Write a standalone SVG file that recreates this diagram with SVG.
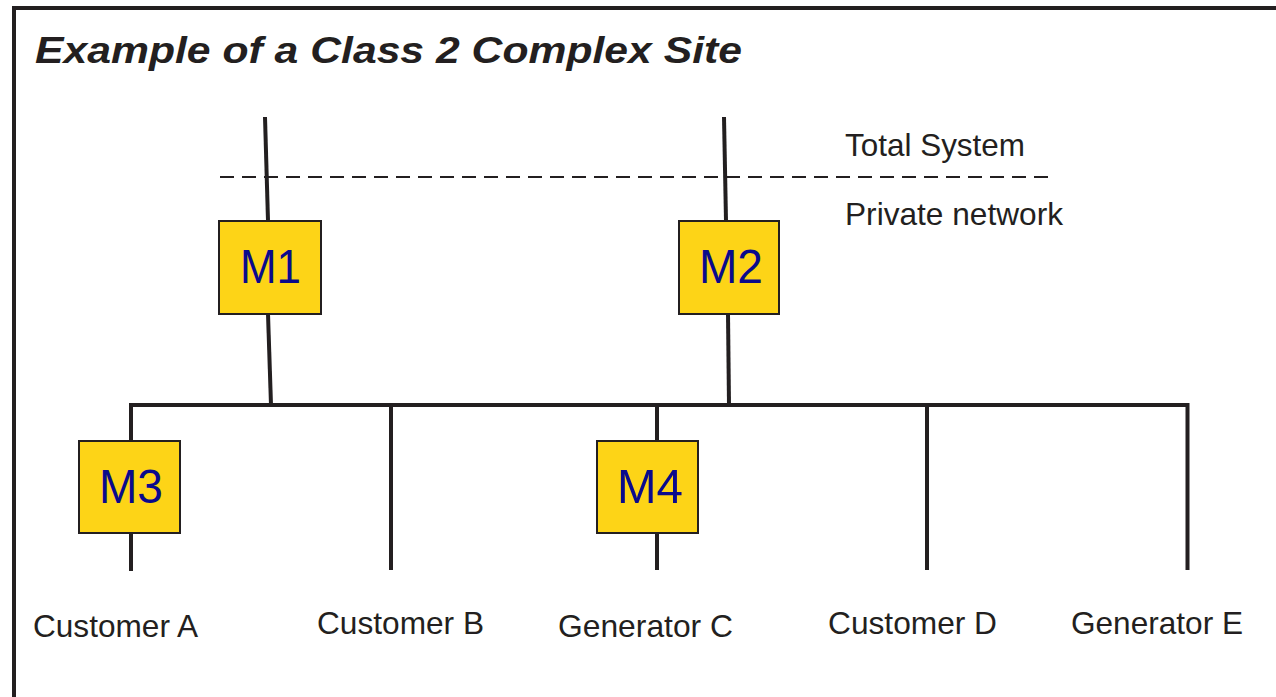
<svg xmlns="http://www.w3.org/2000/svg" width="1276" height="697" viewBox="0 0 1276 697">
<style>
.ln{stroke:#231f20;stroke-width:4;fill:none;stroke-linecap:butt}
.dash{stroke:#231f20;stroke-width:2;stroke-dasharray:14 8;fill:none}
.box{fill:#fdd417;stroke:#231f20;stroke-width:2}
.m{font-family:"Liberation Sans",Arial,sans-serif;font-size:49px;fill:#0a0a8c}
.lbl{font-family:"Liberation Sans",Arial,sans-serif;font-size:32px;fill:#231f20}
.title{font-family:"Liberation Sans",Arial,sans-serif;font-size:37px;font-weight:bold;font-style:italic;fill:#231f20}
</style>
<rect x="0" y="0" width="1276" height="697" fill="#ffffff"/>
<path d="M14 697 V8 H1276" stroke="#231f20" stroke-width="4" fill="none"/>
<text class="title" x="35" y="63" textLength="707" lengthAdjust="spacingAndGlyphs">Example of a Class 2 Complex Site</text>
<g id="connectors">
<line class="dash" x1="220" y1="177" x2="1052" y2="177"/>
<line class="ln" x1="265" y1="117" x2="268" y2="221"/>
<line class="ln" x1="268" y1="314" x2="271" y2="405"/>
<line class="ln" x1="724" y1="117" x2="726" y2="221"/>
<line class="ln" x1="728" y1="314" x2="729" y2="405"/>
<path class="ln" d="M131 441 V405 H1187.5 V570"/>
<line class="ln" x1="131" y1="533" x2="131" y2="571"/>
<line class="ln" x1="391" y1="405" x2="391" y2="570"/>
<line class="ln" x1="657" y1="405" x2="657" y2="441"/>
<line class="ln" x1="657" y1="533" x2="657" y2="570"/>
<line class="ln" x1="927" y1="405" x2="927" y2="570"/>
</g>
<g id="M1"><rect class="box" x="219" y="221" width="102" height="93"/><text class="m" x="240" y="283" textLength="61" lengthAdjust="spacingAndGlyphs">M1</text></g>
<g id="M2"><rect class="box" x="679" y="221" width="100" height="93"/><text class="m" x="699" y="283" textLength="64" lengthAdjust="spacingAndGlyphs">M2</text></g>
<g id="M3"><rect class="box" x="79" y="441" width="101" height="92"/><text class="m" x="99" y="503" textLength="64" lengthAdjust="spacingAndGlyphs">M3</text></g>
<g id="M4"><rect class="box" x="597" y="441" width="101" height="92"/><text class="m" x="617" y="503" textLength="66" lengthAdjust="spacingAndGlyphs">M4</text></g>
<g id="totalSystem"><text class="lbl" x="845" y="156" textLength="180" lengthAdjust="spacingAndGlyphs">Total System</text></g>
<g id="privateNetwork"><text class="lbl" x="845" y="225" textLength="218" lengthAdjust="spacingAndGlyphs">Private network</text></g>
<g id="customerA"><text class="lbl" x="33" y="637" textLength="165" lengthAdjust="spacingAndGlyphs">Customer A</text></g>
<g id="customerB"><text class="lbl" x="317" y="634" textLength="167" lengthAdjust="spacingAndGlyphs">Customer B</text></g>
<g id="generatorC"><text class="lbl" x="558" y="637" textLength="175" lengthAdjust="spacingAndGlyphs">Generator C</text></g>
<g id="customerD"><text class="lbl" x="828" y="634" textLength="169" lengthAdjust="spacingAndGlyphs">Customer D</text></g>
<g id="generatorE"><text class="lbl" x="1071" y="634" textLength="172" lengthAdjust="spacingAndGlyphs">Generator E</text></g>
</svg>
